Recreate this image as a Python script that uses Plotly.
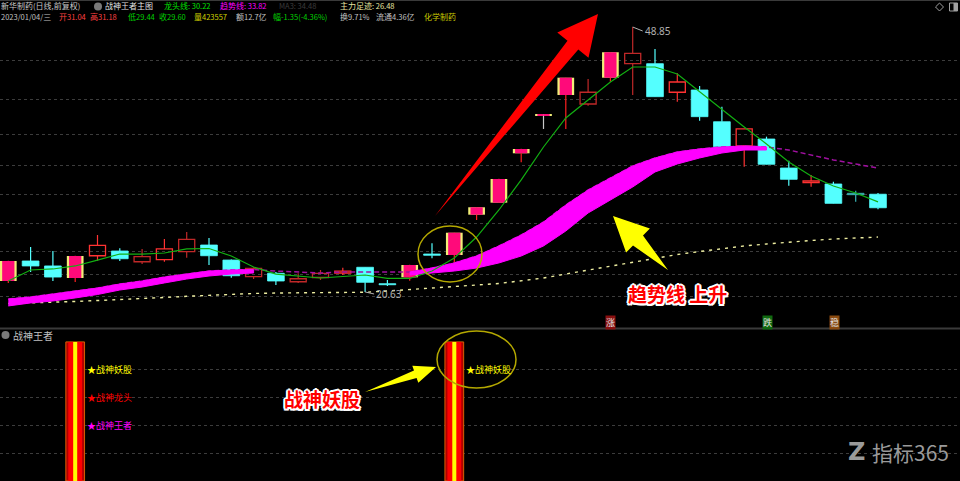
import plotly.graph_objects as go

# ---------------- data ----------------
idx = list(range(40))
opens = [21.80, 23.93, 23.40, 22.12, 24.49, 24.99, 23.85, 24.07, 24.92, 25.63,
         24.03, 22.26, 22.62, 21.72, 22.17, 22.65, 23.26, 21.51, 22.19, 24.67,
         24.57, 28.86, 30.14, 35.40, 39.40, 41.61, 40.65, 43.45, 44.94, 44.94,
         41.90, 42.14, 38.76, 36.18, 36.92, 33.83, 32.27, 32.13, 31.14, 31.04]
highs = [23.95, 25.42, 24.99, 24.48, 26.70, 25.28, 25.21, 26.27, 27.02, 26.38,
         24.10, 23.25, 22.76, 22.62, 22.97, 23.22, 23.30, 21.91, 23.52, 25.81,
         26.96, 29.67, 32.68, 35.88, 39.50, 43.47, 43.31, 46.18, 48.85, 46.51,
         43.92, 42.57, 40.36, 38.00, 37.17, 34.61, 33.09, 32.37, 31.42, 31.18]
lows = [21.59, 22.76, 21.80, 21.69, 23.96, 23.93, 23.61, 23.85, 24.28, 23.50,
        22.15, 22.01, 21.37, 21.59, 21.91, 22.44, 20.63, 21.27, 21.83, 24.22,
        23.50, 28.30, 30.10, 34.44, 37.99, 37.99, 40.47, 43.02, 41.61, 41.40,
        40.89, 38.87, 36.05, 33.97, 34.20, 31.95, 31.84, 30.05, 30.24, 29.44]
closes = [23.93, 23.40, 22.22, 24.46, 25.60, 24.17, 24.39, 25.21, 26.24, 24.49,
          22.36, 23.15, 21.80, 22.04, 22.60, 22.86, 21.66, 21.40, 23.50, 24.54,
          26.94, 29.65, 32.66, 35.86, 39.48, 43.45, 41.90, 46.16, 46.05, 41.43,
          42.99, 39.30, 36.10, 37.99, 34.23, 32.63, 32.45, 30.07, 30.99, 29.60]
kinds = ["pink", "cyan", "cyan", "pink", "red", "cyan", "dred", "red", "dred", "cyan",
         "cyan", "dred", "cyan", "dred", "dred", "red", "cyan", "cyan", "pink", "cyan",
         "pink", "pink", "pink", "pink", "tee", "pink", "dred", "pink", "dred", "cyan",
         "red", "cyan", "cyan", "red", "cyan", "cyan", "red", "cyan", "teal", "cyan"]

dragon_line = [21.80, 22.97, 23.08, 23.40, 24.03, 24.67, 24.67, 24.78, 25.21, 25.26,
               24.46, 23.29, 22.54, 22.33, 22.12, 22.28, 22.44, 22.07, 22.07, 22.86,
               24.25, 26.48, 29.36, 32.56, 36.07, 39.16, 41.08, 42.99, 44.59, 44.59,
               43.84, 41.93, 40.01, 38.20, 36.39, 34.47, 32.98, 31.92, 31.17, 30.22]
trend_line = [19.88, 20.09, 20.41, 20.73, 21.05, 21.48, 21.80, 22.22, 22.54, 22.86,
              22.97, 23.02, 22.86, 22.76, 22.65, 22.76, 22.76, 22.70, 22.76, 23.18,
              23.72, 24.46, 25.53, 26.70, 28.08, 29.89, 31.49, 32.77, 34.05, 34.90,
              35.54, 35.86, 36.07, 36.18, 36.07, 35.75, 35.22, 34.69, 34.26, 33.82]
ribbon_low = [19.14, 19.46, 19.67, 19.99, 20.36, 20.84, 21.16, 21.59, 22.01, 22.33,
              22.54, 22.65, None, None, None, None, None, None, 22.44, 22.65,
              22.86, 23.18, 23.72, 24.46, 25.53, 27.12, 29.04, 30.43, 31.81, 33.41,
              34.26, 34.90, 35.43, 35.75, 35.75, None, None, None, None, None]
footprint = [19.40, 19.46, 19.53, 19.62, 19.72, 19.81, 19.91, 20.04, 20.17, 20.28,
             20.41, 20.47, 20.52, 20.55, 20.57, 20.57, 20.60, 20.73, 20.91, 21.05,
             21.21, 21.37, 21.53, 21.80, 22.12, 22.54, 22.97, 23.40, 23.82, 24.25,
             24.62, 24.94, 25.26, 25.53, 25.74, 25.95, 26.11, 26.27, 26.38, 26.48]
signal = [0, 0, 0, 1, 0, 0, 0, 0, 0, 0, 0, 0, 0, 0, 0, 0, 0, 0, 0, 0,
          1, 0, 0, 0, 0, 0, 0, 0, 0, 0, 0, 0, 0, 0, 0, 0, 0, 0, 0, 0]
signal_labels = {3: [("★战神妖股", 0.8, "#FFFF00"), ("★战神龙头", 0.6, "#FF0000"), ("★战神王者", 0.4, "#FF00FF")],
                 20: [("★战神妖股", 0.8, "#FFFF00")]}
grid_prices = [45.33, 41.18, 37.45, 34.05, 30.96, 27.87, 24.99, 22.54, 20.20]
grid_sub = [0.2, 0.4, 0.6, 0.8]
price_range = [16.793, 51.725]
x_range = [-0.372, 42.677]

W, H = 960, 481
def px(x): return x / W
def py(y): return 1 - y / H

CYAN = "#54FFFF"
RED = "#FF3232"
DRED = "#C02828"
PINK = "#FF0A7A"
YEL = "#F2EE78"

fig = go.Figure()

# footprint dotted line
fig.add_trace(go.Scatter(x=idx, y=footprint, mode="lines",
                         line=dict(color="#EDEDA0", width=1.4, dash="3px,5px")))

# ---------------- candles ----------------
wick_col = {"pink": "#FF2020", "red": RED, "dred": DRED, "cyan": CYAN, "teal": "#3AB5B5", "tee": "#C8C8C8"}
for k, col in wick_col.items():
    wx, wy = [], []
    for i in idx:
        if kinds[i] != k:
            continue
        top = max(opens[i], closes[i]); bot = min(opens[i], closes[i])
        if highs[i] > top:
            wx += [i, i, None]; wy += [highs[i], top, None]
        if lows[i] < bot:
            wx += [i, i, None]; wy += [bot, lows[i], None]
    if wx:
        fig.add_trace(go.Scatter(x=wx, y=wy, mode="lines", line=dict(color=col, width=1.2)))

def body_trace(sel, width, fill, line_col, line_w):
    xs = [i for i in idx if kinds[i] in sel]
    base = [min(opens[i], closes[i]) for i in xs]
    hgt = [max(abs(closes[i] - opens[i]), 0.1) for i in xs]
    fig.add_trace(go.Bar(x=xs, y=hgt, base=base, width=width,
                         marker=dict(color=fill, line=dict(color=line_col, width=line_w))))

body_trace({"cyan"}, 0.75, CYAN, CYAN, 0.8)
body_trace({"teal"}, 0.75, "#3AB5B5", "#3AB5B5", 0.8)
body_trace({"red"}, 0.72, "rgba(0,0,0,0)", RED, 1.3)
body_trace({"dred"}, 0.72, "rgba(0,0,0,0)", DRED, 1.3)
body_trace({"pink", "tee"}, 0.75, YEL, YEL, 0)
body_trace({"pink", "tee"}, 0.55, PINK, PINK, 0)

# trend thin line
fig.add_trace(go.Scatter(x=idx, y=trend_line, mode="lines",
                         line=dict(color="#A010A0", width=1.5, dash="5px,3px")))
# ribbon segments
segs, cur = [], []
for i in idx:
    if ribbon_low[i] is not None:
        cur.append(i)
    elif cur:
        segs.append(cur); cur = []
if cur:
    segs.append(cur)
for s in segs:
    xs = s + s[::-1]
    ys = [trend_line[i] for i in s] + [ribbon_low[i] for i in s[::-1]]
    fig.add_trace(go.Scatter(x=xs, y=ys, mode="lines", fill="toself", fillcolor="#FF00FF",
                             line=dict(color="#FF00FF", width=1)))

# dragon line
fig.add_trace(go.Scatter(x=idx, y=dragon_line, mode="lines", line=dict(color="#12B012", width=1.2)))

# ---------------- sub panel ----------------
sig_x = [i for i in idx if signal[i] > 0]
sig_y = [signal[i] for i in sig_x]
for w, c, lc in [(0.84, "#B00000", "#D86000"), (0.62, "#FF0000", "#FF0000"), (0.18, "#FFFF00", "#FFFF00")]:
    fig.add_trace(go.Bar(x=sig_x, y=sig_y, width=w, xaxis="x2", yaxis="y2",
                         marker=dict(color=c, line=dict(color=lc, width=1 if lc != c else 0))))

ann = []
for bi, labs in signal_labels.items():
    for t, v, c in labs:
        ann.append(dict(x=bi + 0.43, y=v, xref="x2", yref="y2", text=t, showarrow=False,
                        xanchor="left", yanchor="middle",
                        font=dict(size=9, color=c, family="Noto Sans CJK SC")))

# ---------------- header texts ----------------
def txt(x, y, s, color, size=10, **kw):
    d = dict(x=px(x), y=py(y), xref="paper", yref="paper", text=s, showarrow=False,
             xanchor="left", yanchor="middle", borderpad=0,
             font=dict(size=size, color=color, family="Noto Sans CJK SC"))
    d.update(kw)
    ann.append(d)

def n(s):
    return f"<span style='font-size:7.5px'>{s}</span>"

L1, L2 = 5.5, 17
HS = 8
txt(0, L1, "新华制药" + n("(") + "日线" + n(",") + "前复权" + n(")"), "#C8C8C8", HS)
txt(104, L1, "战神王者主图", "#E0E0E0", HS)
txt(163, L1, "龙头线" + n(": 30.22"), "#00E000", HS)
txt(219, L1, "趋势线" + n(": 33.82"), "#FF00FF", HS)
txt(278, L1, n("MA3: 34.48"), "#3C3C3C", HS)
txt(339, L1, "主力足迹" + n(": 26.48"), "#E6E6A0", HS)
txt(0, L2, n("2023/01/04/") + "三", "#C0C0C0", HS)
txt(58, L2, "开" + n("31.04"), "#FF4040", HS)
txt(89, L2, "高" + n("31.18"), "#FF4040", HS)
txt(127, L2, "低" + n("29.44"), "#00D000", HS)
txt(158, L2, "收" + n("29.60"), "#00D000", HS)
txt(193, L2, "量" + n("423557"), "#D0D000", HS)
txt(235, L2, "额" + n("12.7") + "亿", "#C0C0C0", HS)
txt(272, L2, "幅" + n("-1.35(-4.36%)"), "#00D000", HS)
txt(339, L2, "换" + n("9.71%"), "#C0C0C0", HS)
txt(375, L2, "流通" + n("4.36") + "亿", "#C0C0C0", HS)
txt(423, L2, "化学制药", "#C8C800", HS)
txt(12, 335, "战神王者", "#C0C0C0", 10)

# price marks
ann.append(dict(x=28, y=48.85, xref="x", yref="y", text="48.85", showarrow=True, ax=10, ay=4,
                xanchor="left", arrowhead=0, arrowwidth=1, arrowcolor="#B0B0B0",
                font=dict(size=10, color="#B0B0B0", family="Noto Sans")))
ann.append(dict(x=16, y=20.63, xref="x", yref="y", text="20.63", showarrow=True, ax=9, ay=2,
                xanchor="left", arrowhead=0, arrowwidth=1, arrowcolor="#B0B0B0",
                font=dict(size=10, color="#B0B0B0", family="Noto Sans")))

# callout texts
outline = ", ".join(f"{a}px {b}px 0 #FFFFFF" for a, b in
                    [(-2, 0), (2, 0), (0, -2), (0, 2), (-1.5, -1.5), (1.5, -1.5), (-1.5, 1.5), (1.5, 1.5)])
txt(283, 398, "<b>战神妖股</b>", "#FF0000", 19)
ann[-1]["font"]["shadow"] = outline
txt(627, 293, "<b>趋势线 上升</b>", "#FF0000", 19)
ann[-1]["font"]["shadow"] = outline

# bottom markers
for x0, ch, bg in [(610.5, "涨", "#8A1010"), (767.5, "跌", "#106A10"), (834, "稳", "#8A4A10")]:
    ann.append(dict(x=px(x0), y=py(322.5), xref="paper", yref="paper", text=ch, showarrow=False,
                    xanchor="center", yanchor="middle", bgcolor=bg, borderpad=0,
                    font=dict(size=9, color="#E0E0E0", family="Noto Sans CJK SC")))

# watermark
txt(847, 452, "<b>Z</b>", "#9A9A9A", 24)
ann[-1]["font"]["family"] = "DejaVu Sans"
txt(871, 452, "指标365", "#9A9A9A", 21)

# ---------------- shapes ----------------
def poly(pts):
    return "M " + " L ".join(f"{px(x):.5f},{py(y):.5f}" for x, y in pts) + " Z"

shapes = [
    dict(type="line", xref="paper", yref="paper", x0=0, x1=1, y0=py(328.5), y1=py(328.5),
         line=dict(color="#3A3A3A", width=2)),
    dict(type="line", xref="paper", yref="paper", x0=0, x1=1, y0=py(0.5), y1=py(0.5),
         line=dict(color="#3A3A3A", width=1)),
    # red arrow
    dict(type="path", xref="paper", yref="paper", fillcolor="#FF0000", line=dict(width=0),
         path=poly([(435, 216), (567.5, 40.7), (557.3, 32.5), (598, 14), (588.5, 57.7), (578.3, 49.5)])),
    # yellow arrow main
    dict(type="path", xref="paper", yref="paper", fillcolor="#FFFF00", line=dict(width=0),
         path=poly([(668, 270), (643, 235.5), (649.9, 228.4), (613, 216), (626.1, 252.6), (633, 245.5)])),
    # yellow arrow sub
    dict(type="path", xref="paper", yref="paper", fillcolor="#FFFF00", line=dict(width=0),
         path=poly([(365, 392), (414, 370.5), (412.3, 365.8), (436, 367), (418.3, 382.8), (416.6, 378)])),
    # ellipses
    dict(type="circle", xref="paper", yref="paper", x0=px(418), x1=px(482), y0=py(282), y1=py(226),
         line=dict(color="#B4A800", width=1.5)),
    dict(type="circle", xref="paper", yref="paper", x0=px(437), x1=px(516), y0=py(388), y1=py(331),
         line=dict(color="#B4A800", width=1.5)),
    # header icons
    dict(type="circle", xref="paper", yref="paper", x0=px(94), x1=px(102), y0=py(10.5), y1=py(2.5),
         fillcolor="#7A7A7A", line=dict(width=0)),
    dict(type="circle", xref="paper", yref="paper", x0=px(1.5), x1=px(9.5), y0=py(339), y1=py(331),
         fillcolor="#7A7A7A", line=dict(width=0)),
    dict(type="path", xref="paper", yref="paper", line=dict(color="#A0A0A0", width=1),
         path=poly([(939.5, 3), (943.5, 7), (939.5, 11), (935.5, 7)])),
    dict(type="rect", xref="paper", yref="paper", x0=px(949.5), x1=px(957.5), y0=py(11), y1=py(3),
         line=dict(color="#A0A0A0", width=1)),
    dict(type="rect", xref="paper", yref="paper", x0=px(953.5), x1=px(957.5), y0=py(11), y1=py(3),
         fillcolor="#A0A0A0", line=dict(width=0)),
]

fig.update_layout(
    width=W, height=H, margin=dict(l=0, r=0, t=0, b=0),
    paper_bgcolor="#000000", plot_bgcolor="#000000",
    showlegend=False, barmode="overlay", hovermode=False,
    xaxis=dict(range=x_range, visible=False, domain=[0, 1], anchor="y"),
    yaxis=dict(range=price_range, domain=[153 / 481, 1], tickvals=grid_prices, showticklabels=False,
               showgrid=True, gridcolor="#3C3C3C", griddash="dot", gridwidth=1, zeroline=False,
               showline=False, ticks=""),
    xaxis2=dict(range=x_range, visible=False, domain=[0, 1], anchor="y2"),
    yaxis2=dict(range=[0, 1.1], domain=[0, 153 / 481], tickvals=grid_sub, showticklabels=False,
                showgrid=True, gridcolor="#3C3C3C", griddash="dot", gridwidth=1, zeroline=False,
                showline=False, ticks=""),
    annotations=ann, shapes=shapes,
)

fig.write_html("out.html", config={"displayModeBar": False},
               post_script="document.body.style.margin='0px';document.body.style.overflow='hidden';")
